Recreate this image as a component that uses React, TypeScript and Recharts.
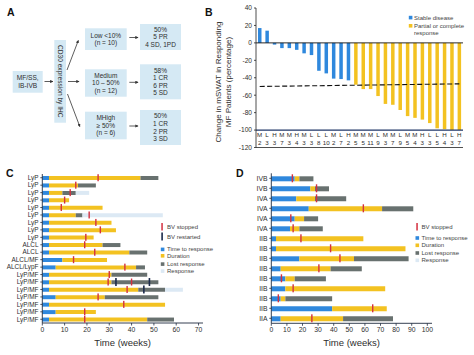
import React from "react";
import { Bar, BarChart, Cell, ComposedChart, ReferenceDot, ReferenceLine, XAxis, YAxis } from "recharts";

const FONT = '"Liberation Sans", Arial, sans-serif';
const BLUE = "#2f88dd";
const YELLOW = "#f3c221";
const GRAY = "#68716f";
const PALE = "#dce9f4";
const RED = "#d4303f";
const NAVY = "#1b2a4b";
const INK = "#2e2e2e";
const AXIS = "#1f2b40";
const BOX = "#d5e9f4";

// ---- panel B: waterfall of mSWAT change
const bLetters = ["M", "L", "H", "M", "M", "H", "M", "L", "L", "L", "M", "L", "H",
  "M", "M", "M", "L", "M", "M", "L", "M", "M", "H", "L", "L", "H", "L", "H"];
const bCounts = [2, 3, 3, 7, 3, 4, 3, 3, 8, 10, 2, 7, 2,
  5, 5, 11, 9, 3, 7, 9, 5, 4, 3, 3, 5, 4, 3, 7];
const bChange = [17, 14, -2, -6, -6, -8, -12, -14, -32, -35, -41, -41.5, -43,
  -48, -53, -53, -61, -70, -71, -77, -84, -86, -88, -92, -98, -99, -100, -100];
const bStableCount = 13;
const bTicks = [40, 20, 0, -20, -40, -60, -80, -100, -120];
const bThreshold = [-50, -47];

// ---- panel C: LyP / ALCL timelines
const cLabels = ["LyP", "LyP", "LyP", "LyP", "LyP", "LyP", "LyP", "LyP", "LyP", "ALCL", "ALCL",
  "ALCL/MF", "ALCL/LypF", "LyP/MF", "LyP/MF", "LyP/MF", "LyP/MF", "LyP/MF", "LyP/MF", "LyP/MF"];
const cTimeToResponse = [3, 3, 3, 3, 3, 3, 3, 3, 3, 3, 3, 9, 6, 3, 3, 3, 6, 3, 6, 3];
const cDuration = [41, 13, 6, 9, 24, 12, 28, 30, 20, 24, 36, 20, 36, 28, 28, 40, 22, 52, 18, 44];
const cLost = [8, 8, 6, 0, 0, 3, 0, 0, 0, 8, 8, 0, 4, 16, 21, 12, 24, 0, 0, 12];
const cResponse = [0, 0, 6, 0, 0, 36, 0, 0, 0, 0, 0, 0, 0, 0, 0, 8, 0, 0, 0, 0];
const cStopped: [number, number][] = [[0, 25], [1, 15], [2, 12.5], [3, 10], [4, 8.5], [5, 21], [6, 24],
  [7, 26], [8, 19.5], [9, 19], [10, 23.5], [11, 14], [12, 37], [13, 30], [14, 29.5], [14, 40],
  [15, 38], [16, 25], [17, 36.5], [18, 19], [19, 19]];
const cRestarted: [number, number][] = [[14, 33], [14, 48], [15, 45.5]];
const cTicks = [0, 10, 20, 30, 40, 50, 60, 70];

// ---- panel D: MF stage timelines
const dLabels = ["IVB", "IVB", "IVA", "IVA", "IVA", "IVA", "IIB", "IIB", "IIB", "IIB", "IIB", "IIB", "IIB", "IIB", "IIA"];
const dTimeToResponse = [15, 25, 16, 24, 15, 12, 3, 3, 18, 6, 9, 9, 6, 39, 6];
const dDuration = [3, 3, 12, 47, 6, 6, 56, 83, 35, 32, 6, 64, 3, 35, 40];
const dLost = [9, 9, 20, 20, 9, 15, 0, 0, 35, 20, 20, 0, 30, 0, 32];
const dStopped = [13.5, 29, 29, 59, 12.5, 14, 19, 38, 44, 30.5, 6.5, 14, 4.5, 65, 26];
const dTicks = [0, 10, 20, 30, 40, 50, 60, 70, 80, 90, 100];

const bData = bChange.map((v, i) => ({ id: String(i), change: v }));

type Row = { id: string; ttr: number; dur: number; lost: number; resp: number };
const buildRows = (ttr: number[], dur: number[], lost: number[], resp?: number[]): Row[] =>
  ttr.map((v, i) => ({ id: String(i), ttr: v, dur: dur[i], lost: lost[i], resp: resp ? resp[i] : 0 }));

const cRows = buildRows(cTimeToResponse, cDuration, cLost, cResponse);
const dRows = buildRows(dTimeToResponse, dDuration, dLost);

const markShape = (color: string, h: number, w: number) => (p: any) => (
  <rect x={p.cx - w / 2} y={p.cy - h / 2} width={w} height={h} fill={color} />
);

const BLabelTick = (props: any) => {
  const { x, y, payload } = props;
  const i = Number(payload.value);
  return (
    <g>
      <text x={x} y={y - 10.3} textAnchor="middle" fontSize={6.2} fill={INK}>{bLetters[i]}</text>
      <text x={x} y={y - 3} textAnchor="middle" fontSize={6.2} fill={INK}>{bCounts[i]}</text>
    </g>
  );
};

const PanelB = () => (
  <div style={{ position: "absolute", left: 206, top: 0 }}>
    <BarChart width={268} height={160} data={bData} margin={{ top: 8, right: 11, bottom: 0.5, left: 26 }}>
      <XAxis
        dataKey="id"
        type="category"
        interval={0}
        height={12}
        tickLine={false}
        tickSize={0}
        tickMargin={0}
        axisLine={{ stroke: "#222", strokeWidth: 0.8 }}
        tick={(p: any) => <BLabelTick {...p} />}
      />
      <YAxis
        type="number"
        domain={[-120, 40]}
        ticks={bTicks}
        interval={0}
        width={24}
        tickSize={2}
        tickMargin={2}
        axisLine={{ stroke: "#222", strokeWidth: 0.8 }}
        tickLine={{ stroke: "#222", strokeWidth: 0.8 }}
        tick={{ fontSize: 6.6, fill: INK }}
      />
      <Bar dataKey="change" barSize={3.5} isAnimationActive={false}>
        {bData.map((d, i) => (
          <Cell key={d.id} fill={i < bStableCount ? BLUE : YELLOW} />
        ))}
      </Bar>
      <ReferenceLine y={0} stroke="#111" strokeWidth={0.9} />
      <ReferenceLine y={-100} stroke="#1e3567" strokeWidth={1.3} />
      <ReferenceLine
        segment={[{ x: bData[0].id, y: bThreshold[0] }, { x: bData[bData.length - 1].id, y: bThreshold[1] }]}
        stroke="#111"
        strokeWidth={1.1}
        strokeDasharray="5 2.5"
      />
    </BarChart>
  </div>
);

type TimelineProps = {
  left: number; top: number; width: number; height: number;
  margin: { top: number; right: number; bottom: number; left: number };
  yWidth: number; xHeight: number; rows: Row[]; labels: string[]; labelSize: number;
  domain: [number, number]; ticks: number[]; barSize: number;
  stopped: [number, number][]; restarted: [number, number][]; markH: number;
};

const Timeline = (p: TimelineProps) => (
  <div style={{ position: "absolute", left: p.left, top: p.top }}>
    <ComposedChart layout="vertical" width={p.width} height={p.height} data={p.rows} margin={p.margin}>
      <XAxis
        type="number"
        domain={p.domain}
        ticks={p.ticks}
        interval={0}
        height={p.xHeight}
        tickSize={2.5}
        tickMargin={1.5}
        axisLine={{ stroke: AXIS, strokeWidth: 0.9 }}
        tickLine={{ stroke: AXIS, strokeWidth: 0.8 }}
        tick={{ fontSize: 6.8, fill: INK }}
        label={{ value: "Time (weeks)", position: "insideBottom", offset: 9, fontSize: 9.5, fill: INK }}
      />
      <YAxis
        type="category"
        dataKey="id"
        interval={0}
        width={p.yWidth}
        tickSize={2}
        tickMargin={1.8}
        axisLine={{ stroke: AXIS, strokeWidth: 0.9 }}
        tickLine={{ stroke: AXIS, strokeWidth: 0.8 }}
        tick={{ fontSize: p.labelSize, fill: INK }}
        tickFormatter={(v: string) => p.labels[Number(v)]}
      />
      <Bar dataKey="ttr" stackId="t" fill={BLUE} barSize={p.barSize} isAnimationActive={false} />
      <Bar dataKey="dur" stackId="t" fill={YELLOW} barSize={p.barSize} isAnimationActive={false} />
      <Bar dataKey="lost" stackId="t" fill={GRAY} barSize={p.barSize} isAnimationActive={false} />
      <Bar dataKey="resp" stackId="t" fill={PALE} barSize={p.barSize} isAnimationActive={false} />
      {p.stopped.map(([r, w], k) => (
        <ReferenceDot key={`s${k}`} x={w} y={String(r)} r={2} ifOverflow="visible" shape={markShape(RED, p.markH, 1.4)} />
      ))}
      {p.restarted.map(([r, w], k) => (
        <ReferenceDot key={`r${k}`} x={w} y={String(r)} r={2} ifOverflow="visible" shape={markShape(NAVY, p.markH + 1, 1.6)} />
      ))}
    </ComposedChart>
  </div>
);

const T = (props: { x: number; y: number; s?: number; a?: "start" | "middle" | "end"; children: React.ReactNode; w?: string }) => (
  <text x={props.x} y={props.y + (props.s ?? 6.5) * 0.35} fontSize={props.s ?? 6.5} textAnchor={props.a ?? "middle"} fill={INK} fontWeight={props.w}>
    {props.children}
  </text>
);

const Lines = ({ x, cy, lines, s }: { x: number; cy: number; lines: string[]; s?: number }) => (
  <>
    {lines.map((l, i) => (
      <T key={i} x={x} y={cy + (i - (lines.length - 1) / 2) * 7.6} s={s}>{l}</T>
    ))}
  </>
);

const aGroups = [
  { label: ["Low <10%", "(n = 10)"], result: ["50%", "5 PR", "4 SD, 1PD"], ly: [28.3, 50], ry: [24, 50] },
  { label: ["Medium", "10 – 50%", "(n = 12)"], result: ["58%", "1 CR", "6 PR", "5 SD"], ly: [69.3, 96.7], ry: [64.3, 99.3] },
  { label: ["MHigh", "≥ 50%", "(n = 6)"], result: ["50%", "1 CR", "2 PR", "3 SD"], ly: [111.7, 139.3], ry: [110, 145] },
];

const Arrow = ({ x1, y1, x2, y2 }: { x1: number; y1: number; x2: number; y2: number }) => (
  <line x1={x1} y1={y1} x2={x2} y2={y2} stroke="#333" strokeWidth={0.8} markerEnd="url(#ah)" />
);

const Sw = ({ x, y, c }: { x: number; y: number; c: string }) => <rect x={x} y={y} width={3.6} height={3.6} fill={c} />;
const Lt = ({ x, y, children }: { x: number; y: number; children: React.ReactNode }) => (
  <text x={x} y={y + 2.1} fontSize={6} fill="#444">{children}</text>
);

const Overlay = () => (
  <svg width={474} height={355} style={{ position: "absolute", left: 0, top: 0, pointerEvents: "none" }}>
    <defs>
      <marker id="ah" viewBox="0 0 6 6" refX="5" refY="3" markerWidth="4" markerHeight="4" orient="auto">
        <path d="M0,0 L6,3 L0,6 z" fill="#333" />
      </marker>
    </defs>
    <text x={7} y={15.5} fontSize={10.5} fontWeight="bold" fill="#111">A</text>
    <text x={205} y={15.5} fontSize={10.5} fontWeight="bold" fill="#111">B</text>
    <text x={6} y={176.5} fontSize={10.5} fontWeight="bold" fill="#111">C</text>
    <text x={236} y={176.5} fontSize={10.5} fontWeight="bold" fill="#111">D</text>

    {/* panel A flow */}
    <rect x={12.7} y={71} width={30} height={21.7} fill={BOX} />
    <Lines x={27.7} cy={81.4} lines={["MF/SS,", "IB-IVB"]} s={6.6} />
    <Arrow x1={44.5} y1={81.5} x2={52.8} y2={81.5} />
    <rect x={54.3} y={40} width={11.7} height={82.7} fill={BOX} />
    <text x={60.2} y={81.3} fontSize={6.6} textAnchor="middle" dominantBaseline="central" fill={INK} transform="rotate(90 60.2 81.3)">
      CD30 expression by IHC
    </text>
    <Arrow x1={67} y1={70} x2={78.3} y2={40.5} />
    <Arrow x1={68} y1={81.5} x2={79} y2={81.5} />
    <Arrow x1={67.5} y1={94} x2={79.8} y2={126.5} />
    {aGroups.map((g, i) => (
      <g key={i}>
        <rect x={85} y={g.ly[0]} width={41.7} height={g.ly[1] - g.ly[0]} fill={BOX} />
        <Lines x={105.8} cy={(g.ly[0] + g.ly[1]) / 2} lines={g.label} />
        <Arrow x1={129.3} y1={(g.ry[0] + g.ry[1]) / 2 + (i === 2 ? -1.5 : 0.5)} x2={138} y2={(g.ry[0] + g.ry[1]) / 2 + (i === 2 ? -1.5 : 0.5)} />
        <rect x={140} y={g.ry[0]} width={41} height={g.ry[1] - g.ry[0]} fill={BOX} />
        <Lines x={160.5} cy={(g.ry[0] + g.ry[1]) / 2} lines={g.result} />
      </g>
    ))}

    {/* panel B axis title and legend */}
    <g transform="translate(218.5 82) rotate(-90)">
      <text x={0} y={0} fontSize={8} textAnchor="middle" dominantBaseline="central" fill={INK}>Change in mSWAT in Responding</text>
      <text x={0} y={9.5} fontSize={8} textAnchor="middle" dominantBaseline="central" fill={INK}>MF Patients (percentage)</text>
    </g>
    <Sw x={408.8} y={15.8} c={BLUE} />
    <Lt x={414} y={17.5}>Stable disease</Lt>
    <Sw x={408.8} y={24} c={YELLOW} />
    <Lt x={414} y={25.8}>Partial or complete</Lt>
    <Lt x={414} y={33.2}>response</Lt>

    {/* panel C legend */}
    <rect x={161.3} y={223} width={1.5} height={7.5} fill={RED} />
    <Lt x={167} y={226.7}>BV stopped</Lt>
    <rect x={161.3} y={232.5} width={1.6} height={8} fill={NAVY} />
    <Lt x={167} y={236.7}>BV restarted</Lt>
    <Sw x={160.8} y={247.6} c={BLUE} />
    <Lt x={167} y={249.3}>Time to response</Lt>
    <Sw x={160.8} y={254} c={YELLOW} />
    <Lt x={167} y={255.8}>Duration</Lt>
    <Sw x={160.8} y={262.3} c={GRAY} />
    <Lt x={167} y={264}>Lost response</Lt>
    <Sw x={160.8} y={269.3} c={PALE} />
    <Lt x={167} y={271}>Response</Lt>

    {/* panel D legend */}
    <rect x={416.3} y={223} width={1.5} height={7.5} fill={RED} />
    <Lt x={421.5} y={226.7}>BV stopped</Lt>
    <Sw x={415.5} y={236.2} c={BLUE} />
    <Lt x={421.5} y={238}>Time to response</Lt>
    <Sw x={415.5} y={243.5} c={YELLOW} />
    <Lt x={421.5} y={245.3}>Duration</Lt>
    <Sw x={415.5} y={251.2} c={GRAY} />
    <Lt x={421.5} y={253}>Lost response</Lt>
    <Sw x={415.5} y={258.5} c={PALE} />
    <Lt x={421.5} y={260.3}>Response</Lt>
  </svg>
);

export default function App() {
  return (
    <div style={{ position: "absolute", left: 0, top: 0, width: 474, height: 355, background: "#fff", fontFamily: FONT, overflow: "hidden" }}>
      <PanelB />
      <Timeline
        left={0} top={160} width={210} height={195}
        margin={{ top: 14, right: 7, bottom: 0, left: 0 }}
        yWidth={42.3} xHeight={32}
        rows={cRows} labels={cLabels} labelSize={6.4}
        domain={[0, 72]} ticks={cTicks} barSize={4}
        stopped={cStopped} restarted={cRestarted} markH={7}
      />
      <Timeline
        left={237} top={160} width={237} height={195}
        margin={{ top: 13.3, right: 42, bottom: 0, left: 0 }}
        yWidth={34.3} xHeight={31.7}
        rows={dRows} labels={dLabels} labelSize={6.8}
        domain={[0, 103]} ticks={dTicks} barSize={5}
        stopped={dStopped.map((w, i) => [i, w] as [number, number])} restarted={[]} markH={8}
      />
      <Overlay />
    </div>
  );
}
